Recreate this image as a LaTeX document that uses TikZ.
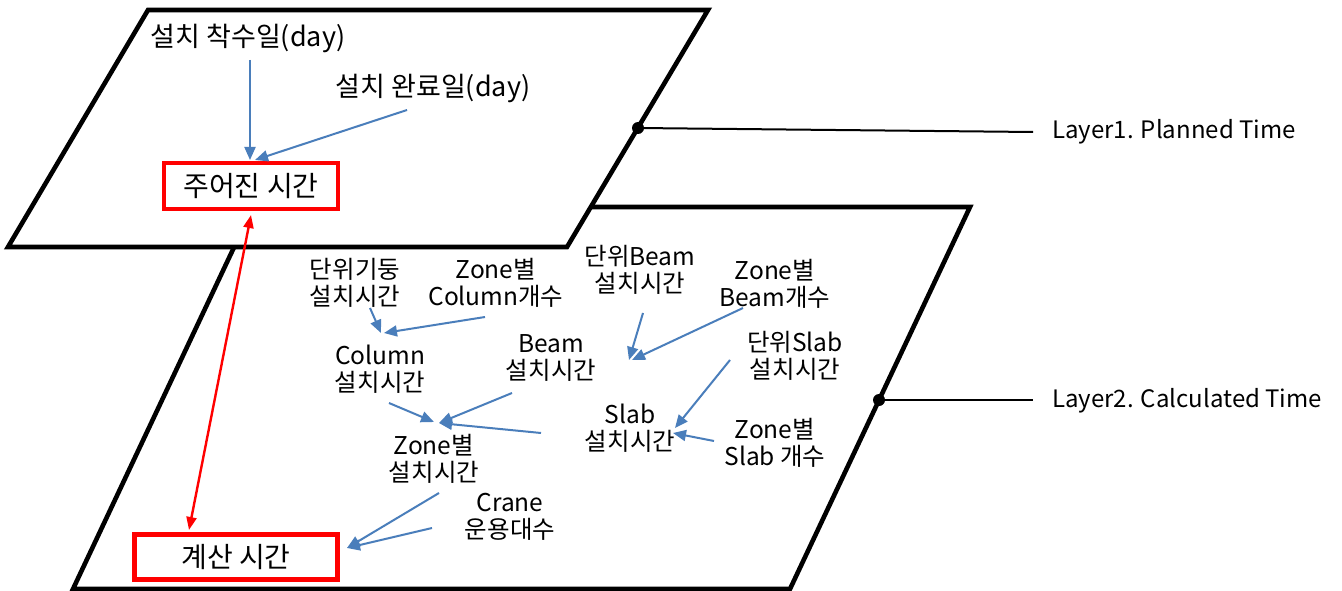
\documentclass[tikz,border=0pt]{standalone}
\usepackage{fontspec}
\setmainfont{Noto Sans CJK KR}
\usetikzlibrary{arrows.meta,calc}
\definecolor{arrowblue}{RGB}{74,126,187}
\begin{document}
\begin{tikzpicture}[x=1pt,y=-1pt,
  lbl/.style={inner sep=0pt, align=center, font=\fontsize{24.5}{27.5}\selectfont},
  toplbl/.style={inner sep=0pt, font=\fontsize{27}{31}\selectfont},
  layerlbl/.style={inner sep=0pt, anchor=west, font=\fontsize{24}{28}\selectfont},
  redbox/.style={draw=red, line width=4.8pt, inner sep=0pt, font=\fontsize{28}{32}\selectfont},
  barr/.style={draw=arrowblue, line width=2pt, -{Triangle[length=13pt,width=11pt]}},
  rarr/.style={draw=red, line width=2.4pt, {Triangle[length=13pt,width=10pt]}-{Triangle[length=13pt,width=10pt]}},
  plane/.style={draw=black, line width=4.6pt, fill=white, line join=miter},
  dot/.style={circle, fill=black, inner sep=0pt, minimum size=12pt},
  leader/.style={draw=black, line width=2pt}]
\useasboundingbox (0,0) rectangle (1342,591);
% planes
\draw[plane] (253,207) -- (970,207) -- (790,589) -- (73,589) -- cycle;
\draw[plane] (148,10) -- (708,10) -- (567,247) -- (8,247) -- cycle;
% layer labels
\node[dot] (d1) at (638,128) {};
\node[dot] (d2) at (879,400) {};
\coordinate (e1) at (1033,132);
\coordinate (e2) at (1033,400);
\node[layerlbl] (L1) at (1052,132) {Layer1. Planned Time};
\node[layerlbl] (L2) at (1052,401) {Layer2. Calculated Time};
\draw[leader] (d1.center) -- (e1);
\draw[leader] (d2.center) -- (e2);
% layer 1 nodes
\node[toplbl] (s1) at (248,38) {설치 착수일(day)};
\node[toplbl] (s2) at (433,88) {설치 완료일(day)};
\node[redbox, minimum width=174pt, minimum height=46pt] (given) at (251,186) {주어진 시간};
% layer 2 nodes
\node[redbox, minimum width=203pt, minimum height=45pt] (calc) at (236,557) {계산 시간};
\node[lbl] (ucol) at (355,283) {단위기둥\\설치시간};
\node[lbl] (zcol) at (496,283) {Zone별\\Column개수};
\node[lbl] (ubeam) at (640,270) {단위Beam\\설치시간};
\node[lbl] (zbeam) at (775,284) {Zone별\\Beam개수};
\node[lbl] (colt) at (380,369) {Column\\설치시간};
\node[lbl] (beamt) at (551,358) {Beam\\설치시간};
\node[lbl] (uslab) at (795,356) {단위Slab\\설치시간};
\node[lbl] (slabt) at (630,428) {Slab\\설치시간};
\node[lbl] (zonet) at (434,459) {Zone별\\설치시간};
\node[lbl] (zslab) at (775,443) {Zone별\\Slab 개수};
\node[lbl] (crane) at (510,517) {Crane\\운용대수};
% blue arrows
\draw[barr] ($(s1)+(2,22)$) -- ($(given)+(-1,-26)$);
\draw[barr] ($(s2)+(-26,22)$) -- ($(given)+(4,-26)$);
\draw[barr] ($(ucol)+(15,25)$) -- ($(colt)+(1,-36)$);
\draw[barr] ($(zcol)+(-11,34)$) -- ($(colt)+(4,-36)$);
\draw[barr] ($(ubeam)+(3,43)$) -- ($(beamt)+(78,2)$);
\draw[barr] ($(zbeam)+(-32,24)$) -- ($(beamt)+(81,2)$);
\draw[barr] ($(colt)+(9,34)$) -- ($(zonet)+(0,-37)$);
\draw[barr] ($(beamt)+(-39,35)$) -- ($(zonet)+(5,-36)$);
\draw[barr] ($(slabt)+(-89,5)$) -- ($(zonet)+(5,-36)$);
\draw[barr] ($(uslab)+(-65,4)$) -- ($(slabt)+(45,0)$);
\draw[barr] ($(zslab)+(-61,-2)$) -- ($(slabt)+(43,5)$);
\draw[barr] ($(zonet)+(5,34)$) -- ($(calc)+(111,-9)$);
\draw[barr] ($(crane)+(-78,11)$) -- ($(calc)+(111,-9)$);
% red double arrow
\draw[rarr] ($(given)+(0,29)$) -- ($(calc)+(-47,-27)$);
\end{tikzpicture}
\end{document}
